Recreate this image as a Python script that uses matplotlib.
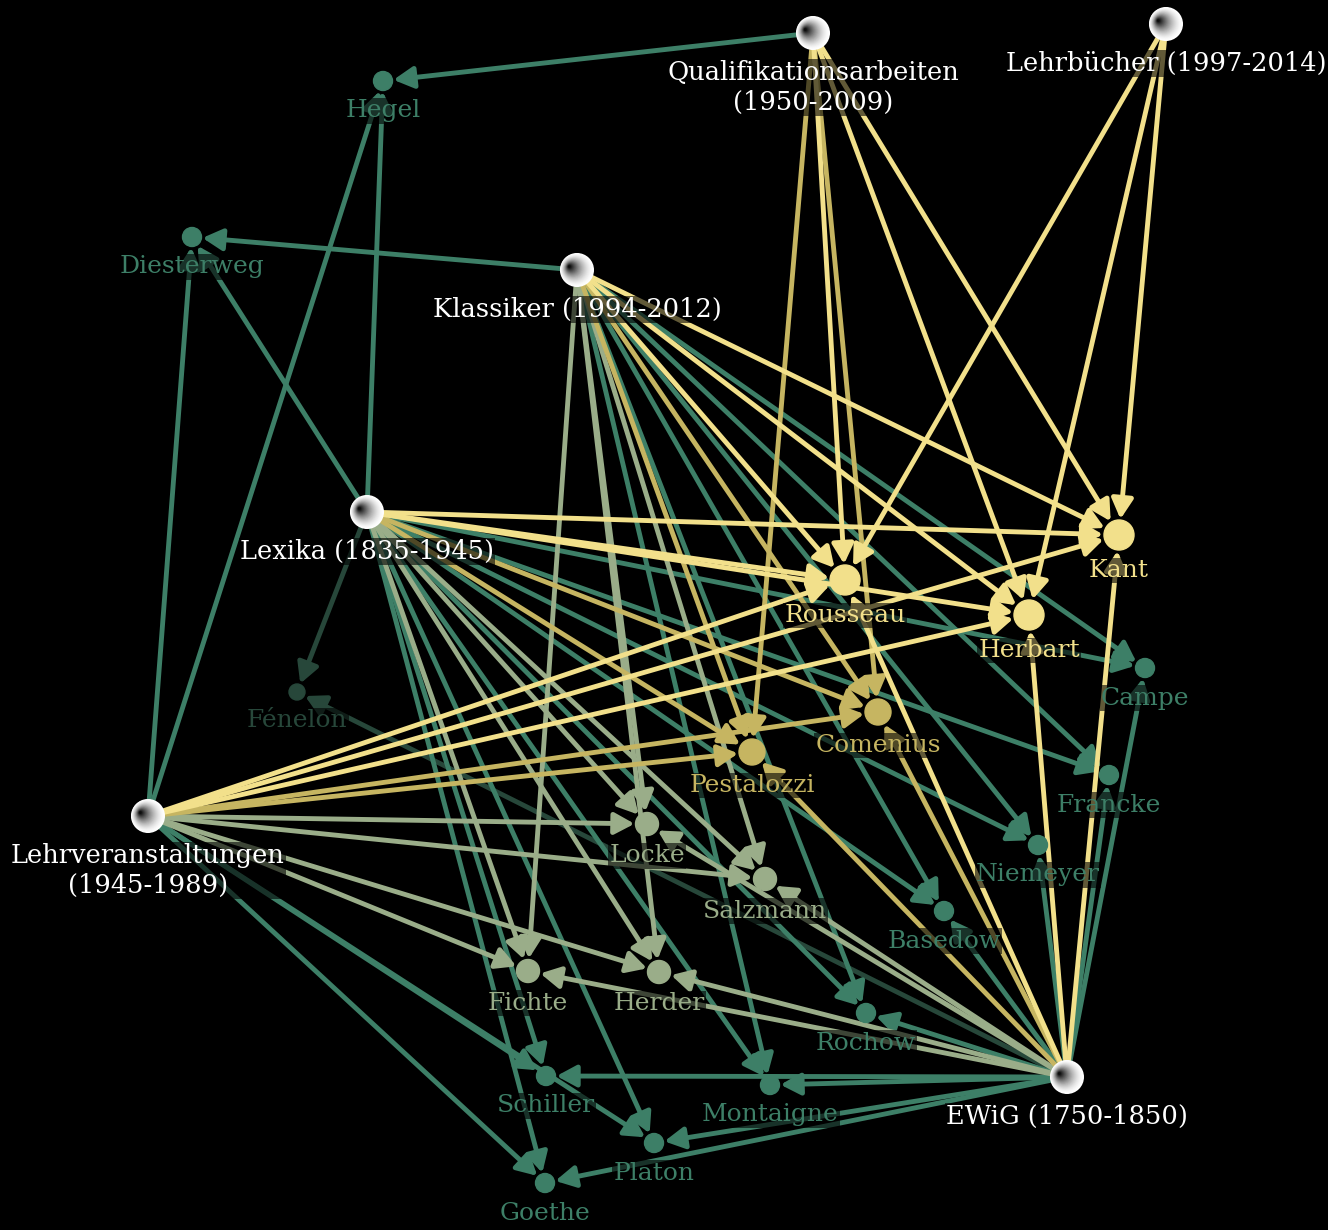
import matplotlib
matplotlib.use("Agg")
from matplotlib import pyplot as plt
from matplotlib.patches import Circle, FancyArrowPatch, ArrowStyle


# ==========================================================
# Quellen (Korpora) und Autoren
# ==========================================================
sources = ["Qualifikationsarbeiten\n(1950-2009)", "Lehrbücher (1997-2014)",
           "Klassiker (1994-2012)", "Lexika (1835-1945)",
           "Lehrveranstaltungen\n(1945-1989)", "EWiG (1750-1850)"]
source_keys = ["Q", "B", "K", "L", "V", "E"]
# layout (pixel coordinates of the force layout)
source_x = [813, 1166, 577, 367, 148, 1067]
source_y = [33, 24, 270, 512, 816, 1077]

authors = ["Hegel", "Diesterweg", "Kant", "Rousseau", "Herbart", "Campe",
           "Comenius", "Pestalozzi", "Fénelon", "Francke", "Locke", "Niemeyer",
           "Salzmann", "Basedow", "Fichte", "Herder", "Rochow", "Schiller",
           "Montaigne", "Platon", "Goethe"]
author_x = [383, 192, 1119, 845, 1029, 1145, 878, 752, 297, 1109, 647, 1038,
            765, 944, 528, 659, 866, 546, 770, 654, 545]
author_y = [81, 237, 535, 580, 615, 668, 712, 752, 692, 775, 824, 845,
            879, 911, 971, 972, 1013, 1076, 1085, 1143, 1183]

# Nennungen: welche Quelle verweist auf welchen Autor
links = {
    "Q": ["Hegel", "Kant", "Rousseau", "Herbart", "Comenius", "Pestalozzi"],
    "B": ["Kant", "Rousseau", "Herbart"],
    "K": ["Diesterweg", "Kant", "Rousseau", "Herbart", "Comenius", "Pestalozzi",
          "Locke", "Salzmann", "Fichte", "Herder", "Campe", "Francke",
          "Niemeyer", "Basedow", "Rochow", "Montaigne"],
    "L": ["Hegel", "Diesterweg", "Fénelon", "Kant", "Rousseau", "Herbart",
          "Comenius", "Pestalozzi", "Locke", "Salzmann", "Fichte", "Herder",
          "Campe", "Francke", "Niemeyer", "Basedow", "Rochow", "Schiller",
          "Montaigne", "Platon", "Goethe"],
    "V": ["Hegel", "Diesterweg", "Kant", "Rousseau", "Herbart", "Comenius",
          "Pestalozzi", "Locke", "Salzmann", "Fichte", "Herder", "Schiller",
          "Platon", "Goethe"],
    "E": ["Fénelon", "Kant", "Rousseau", "Herbart", "Comenius", "Pestalozzi",
          "Locke", "Salzmann", "Fichte", "Herder", "Campe", "Francke",
          "Niemeyer", "Basedow", "Rochow", "Schiller", "Montaigne", "Platon",
          "Goethe"],
}

# Farbe und Größe nach Anzahl der Quellen (in-degree)
degree_color = {6: "#f2e08b", 5: "#c6b561", 4: "#9aad89", 3: "#3d7f67", 2: "#27473a"}
degree_radius = {6: 15, 5: 13, 4: 11.5, 3: 9.5, 2: 8}

SRC_R = 17
PX2PT = 0.72

indeg = {a: 0 for a in authors}
for k in source_keys:
    for a in links[k]:
        indeg[a] += 1

# ==========================================================
# Plot
# ==========================================================
fig = plt.figure(figsize=(13.28, 12.30), dpi=100, facecolor="black")
ax = fig.add_axes([0, 0, 1, 1])
ax.set_facecolor("black")
ax.set_xlim(0, 1328)
ax.set_ylim(1230, 0)
ax.set_aspect("equal")
ax.axis("off")

font = "DejaVu Serif"
label_box = dict(boxstyle="square,pad=0.05", fc="black", ec="none", alpha=0.6)

# Kanten, zuerst die schwach vernetzten
edges = []
for i, k in enumerate(source_keys):
    for a in links[k]:
        edges.append((indeg[a], i, authors.index(a)))
edges.sort()

for d, i, j in edges:
    c = degree_color[d]
    arr = FancyArrowPatch(
        (source_x[i], source_y[i]), (author_x[j], author_y[j]),
        arrowstyle=ArrowStyle("-|>", head_length=12, head_width=6.5),
        shrinkA=SRC_R * PX2PT, shrinkB=(degree_radius[d] + 1) * PX2PT,
        lw=3.5, color=c, mutation_scale=1, zorder=1,
    )
    ax.add_patch(arr)

# Autoren
for j, a in enumerate(authors):
    d = indeg[a]
    r = degree_radius[d]
    ax.add_patch(Circle((author_x[j], author_y[j]), r, color=degree_color[d], zorder=2))
    ax.text(author_x[j], author_y[j] + r + 9, a, ha="center", va="top",
            fontsize=18, family=font, color=degree_color[d], zorder=3,
            bbox=label_box)

# Quellen als Kugeln
n = 24
for i, s in enumerate(sources):
    cx, cy = source_x[i], source_y[i]
    for t in range(n):
        f = t / (n - 1)
        g = 1.0 - 0.95 * f ** 1.6
        ax.add_patch(Circle((cx - 0.45 * SRC_R * f, cy - 0.2 * SRC_R * f),
                            SRC_R * (1 - 0.92 * f), color=(g, g, g), lw=0, zorder=5))
    ax.text(cx, cy + SRC_R + 10, s, ha="center", va="top", fontsize=18.5,
            family=font, color="white", linespacing=1.25, zorder=6,
            bbox=label_box)

fig.savefig("out.png", dpi=100, facecolor="black")
plt.close(fig)
